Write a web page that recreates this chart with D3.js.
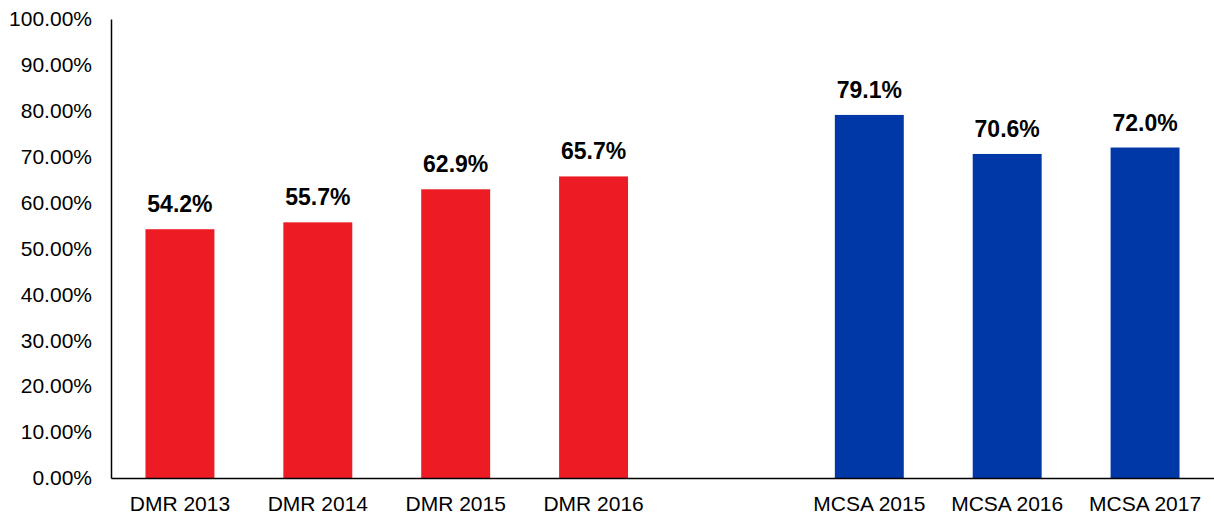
<!DOCTYPE html>
<html lang="en">
<head>
<meta charset="utf-8">
<title>DMR / MCSA</title>
<script src="https://d3js.org/d3.v7.min.js"></script>
<style>
  body { margin: 0; background: #fff; }
  text { font-family: "Liberation Sans", Arial, sans-serif; fill: #000; }
</style>
</head>
<body>
<div id="chart"></div>
<script>
// data
var categories = ["DMR 2013", "DMR 2014", "DMR 2015", "DMR 2016", "", "MCSA 2015", "MCSA 2016", "MCSA 2017"];
var values = [54.2, 55.7, 62.9, 65.7, null, 79.1, 70.6, 72.0];
var barColors = ["#ED1C24", "#ED1C24", "#ED1C24", "#ED1C24", null, "#0038A8", "#0038A8", "#0038A8"];
var yTicks = [0, 10, 20, 30, 40, 50, 60, 70, 80, 90, 100];

var w = 1214, h = 515;
var margin = { top: 19, right: 0, bottom: 37, left: 111 };
var width = w - margin.left - margin.right, height = h - margin.top - margin.bottom;

var svg = d3.select("#chart").append("svg")
  .attr("width", w).attr("height", h)
  .append("g")
  .attr("transform", `translate(${margin.left},${margin.top})`);

var x = d3.scaleBand()
  .domain(d3.range(categories.length))
  .range([0, width])
  .paddingInner(0.5).paddingOuter(0.25);

var y = d3.scaleLinear().domain([0, 100]).range([height, 0]);

// y axis
var yAxis = svg.append("g")
  .call(d3.axisLeft(y).tickValues(yTicks).tickSize(0).tickPadding(19)
    .tickFormat(d => d.toFixed(2) + "%"));
yAxis.select(".domain").attr("stroke", "#000").attr("stroke-width", 1.5);
yAxis.selectAll("text").style("font-size", "21px").attr("fill", "#000");

// bars
var data = values.map((v, i) => ({ i: i, v: v, c: barColors[i] })).filter(d => d.v !== null);

svg.selectAll("rect.bar")
  .data(data)
  .join("rect")
  .attr("class", "bar")
  .attr("x", d => x(d.i))
  .attr("width", x.bandwidth())
  .attr("y", d => y(d.v))
  .attr("height", d => height - y(d.v))
  .attr("fill", d => d.c);

// value labels
svg.selectAll("text.val")
  .data(data)
  .join("text")
  .attr("class", "val")
  .attr("x", d => x(d.i) + x.bandwidth() / 2)
  .attr("y", d => y(d.v) - 17)
  .attr("text-anchor", "middle")
  .style("font-size", "23px")
  .style("font-weight", "bold")
  .text(d => d.v.toFixed(1) + "%");

// x axis
var xAxis = svg.append("g")
  .attr("transform", `translate(0,${height})`)
  .call(d3.axisBottom(x).tickSize(0).tickPadding(18).tickFormat(i => categories[i]));
xAxis.select(".domain").attr("stroke", "#000").attr("stroke-width", 1.5);
xAxis.selectAll("text").style("font-size", "21px").attr("fill", "#000");
</script>
</body>
</html>
